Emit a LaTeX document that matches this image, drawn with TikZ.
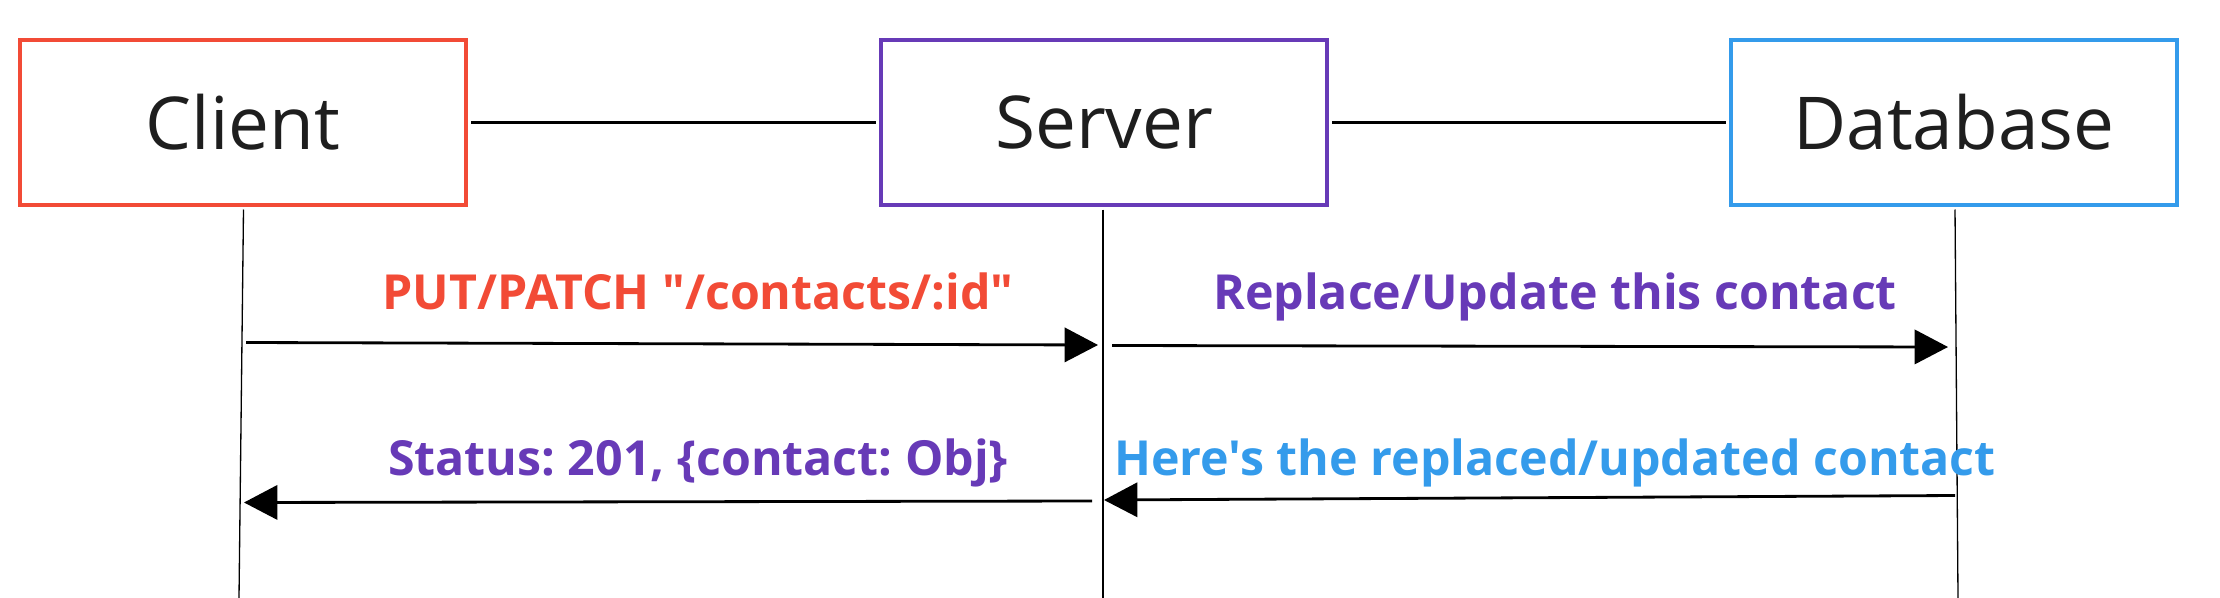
\documentclass[tikz,border=0pt]{standalone}
\usepackage{fontspec}
\setmainfont{Open Sans}
\newfontfamily\lblfont{Open Sans}
\frenchspacing
\usetikzlibrary{arrows.meta}
\definecolor{cred}{HTML}{F24B36}
\definecolor{cpurple}{HTML}{673AB7}
\definecolor{cblue}{HTML}{349BEB}
\definecolor{ctext}{HTML}{1E1E1E}
\tikzset{
  actor/.style={draw=#1, line width=2.4pt, minimum width=446*0.02cm, minimum height=165*0.02cm, inner sep=0pt, text=ctext, font=\fontsize{41.5}{48}\selectfont},
  life/.style={line width=0.75pt},
  link/.style={line width=1.15pt, shorten <=3*0.02cm, shorten >=3*0.02cm},
  msg/.style={line width=1.6pt, -{Triangle[length=19pt,width=19.5pt]}},
  lbl/.style={text=#1, font=\lblfont\fontsize{27.5}{33}\selectfont\bfseries\frenchspacing, inner sep=0pt, anchor=base}
}
\begin{document}
\begin{tikzpicture}[x=0.02cm,y=-0.02cm]
\useasboundingbox (0,0) rectangle (2220,598);
\node[actor=cred] (client) at (243,122.5) {Client};
\node[actor=cpurple] (server) at (1104,122.5) {Server};
\node[actor=cblue] (db) at (1954,122.5) {Database};
\draw[link] (client.east) -- (server.west);
\draw[link] (server.east) -- (db.west);
\coordinate (c1) at (243.5,209.5); \coordinate (c2) at (239,598);
\coordinate (s1) at (1103,209.5); \coordinate (s2) at (1103,598);
\coordinate (d1) at (1955,209.5); \coordinate (d2) at (1958,598);
\draw[life] (c1) -- (c2);
\draw[life] (s1) -- (s2);
\draw[life] (d1) -- (d2);
\coordinate (a1s) at (246,342.5); \coordinate (a1e) at (1098,345);
\coordinate (a2s) at (1112,345.5); \coordinate (a2e) at (1948,347);
\coordinate (a3s) at (1955,495.5); \coordinate (a3e) at (1104,500);
\coordinate (a4s) at (1092,501); \coordinate (a4e) at (244,502.5);
\draw[msg] (a1s) -- (a1e);
\draw[msg] (a2s) -- (a2e);
\draw[msg] (a3s) -- (a3e);
\draw[msg] (a4s) -- (a4e);
\node[lbl=cred] (l1) at (698,309) {PUT/PATCH \symbol{34}/contacts/:id\symbol{34}};
\node[lbl=cpurple] (l2) at (1555,309) {Replace/Update this contact};
\node[lbl=cpurple] (l3) at (698,475) {Status: 201, \{contact: Obj\}};
\node[lbl=cblue] (l4) at (1555,475) {Here\symbol{39}s the replaced/updated contact};
\end{tikzpicture}
\end{document}
